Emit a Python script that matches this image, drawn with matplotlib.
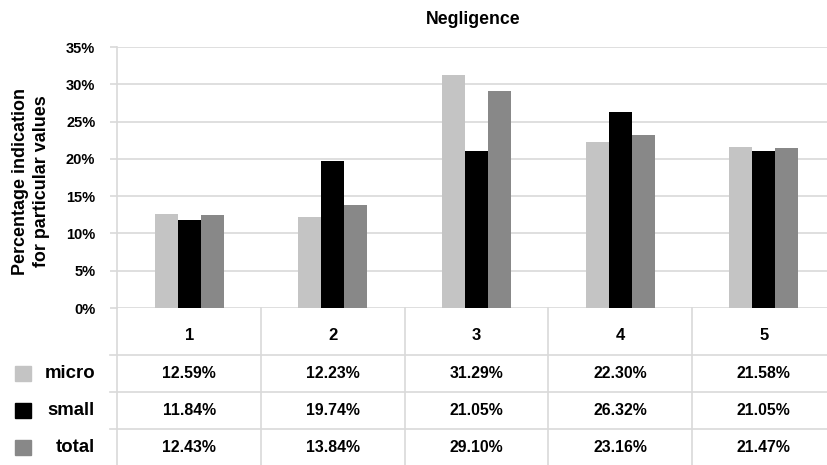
import matplotlib
matplotlib.use("Agg")
import matplotlib.pyplot as plt
from matplotlib.patches import Rectangle
import matplotlib.transforms as mtransforms

categories = ["1", "2", "3", "4", "5"]
series_names = ["micro", "small", "total"]
micro = [12.59, 12.23, 31.29, 22.30, 21.58]
small = [11.84, 19.74, 21.05, 26.32, 21.05]
total = [12.43, 13.84, 29.10, 23.16, 21.47]
yticks = [0, 5, 10, 15, 20, 25, 30, 35]
colors = ["#c4c4c4", "#000000", "#888888"]

FONT = "Liberation Sans"
GRID = "#d9d9d9"

W, H = 828, 465
fig = plt.figure(figsize=(W / 100, H / 100), dpi=100)

# plot area in pixel terms
x0, x1 = 117.5, 835.5
y_top, y_zero, y_bot = 47, 308, 465
pw = x1 - x0

ax = fig.add_axes([x0 / W, (H - y_zero) / H, pw / W, (y_zero - y_top) / H])
ax.set_xlim(-0.5, 4.5)
ax.set_ylim(0, 35)

series = [micro, small, total]
bw = 0.16
for i, (vals, c) in enumerate(zip(series, colors)):
    xs = [k + (i - 1) * bw for k in range(len(categories))]
    ax.bar(xs, vals, width=bw, color=c, zorder=3)

ax.set_yticks(yticks)
ax.set_yticklabels([f"{t}%" for t in yticks], fontfamily=FONT, fontweight="bold", fontsize=10.5)
ax.set_xticks([])
ax.tick_params(axis="y", length=5, color=GRID, width=1.2, pad=11)
ax.grid(axis="y", color=GRID, linewidth=1.2, zorder=0)
for s in ["top", "right", "bottom"]:
    ax.spines[s].set_visible(False)
ax.spines["left"].set_color(GRID)
ax.spines["left"].set_linewidth(1.2)

ax.set_ylabel("Percentage indication\nfor particular values", fontfamily=FONT,
              fontweight="bold", fontsize=12.9, linespacing=1.3, va="center")
ax.yaxis.set_label_coords((31 - x0) / pw, (y_zero - 181) / (y_zero - y_top))

fig.text(473 / W, 1 - 20 / H, "Negligence", ha="center", va="center",
         fontfamily=FONT, fontweight="bold", fontsize=12.7)

# data table below the bars
ax2 = fig.add_axes([x0 / W, 0, pw / W, (y_bot - y_zero) / H])
ax2.set_xlim(-0.5, 4.5)
ax2.set_ylim(y_bot - y_zero, 0)
ax2.axis("off")

row_lines = [0, 47, 84, 121]
header_y = 28
row_y = [65, 102, 139]

blend = mtransforms.blended_transform_factory(ax2.transAxes, ax2.transData)
for ry in row_lines[1:]:
    ax2.plot([-7 / pw, 1], [ry, ry], color=GRID, lw=1.2, transform=blend, clip_on=False)
for b in range(len(categories) + 1):
    ax2.plot([b - 0.5, b - 0.5], [0, y_bot - y_zero], color=GRID, lw=1.2, clip_on=False)

for k, cat in enumerate(categories):
    ax2.text(k, header_y, cat, ha="center", va="center", fontfamily=FONT,
             fontweight="bold", fontsize=12)
    for r, vals in enumerate(series):
        ax2.text(k, row_y[r], f"{vals[k]:.2f}%", ha="center", va="center",
                 fontfamily=FONT, fontweight="bold", fontsize=11.4)

for r, (name, c) in enumerate(zip(series_names, colors)):
    ax2.add_patch(Rectangle(((15 - x0) / pw, row_y[r] - 7.5), 16 / pw, 15,
                            transform=blend, color=c, clip_on=False))
    ax2.text((95 - x0) / pw, row_y[r], name, ha="right", va="center",
             transform=blend, fontfamily=FONT, fontweight="bold", fontsize=13.4)

fig.savefig("out.png", dpi=100)
